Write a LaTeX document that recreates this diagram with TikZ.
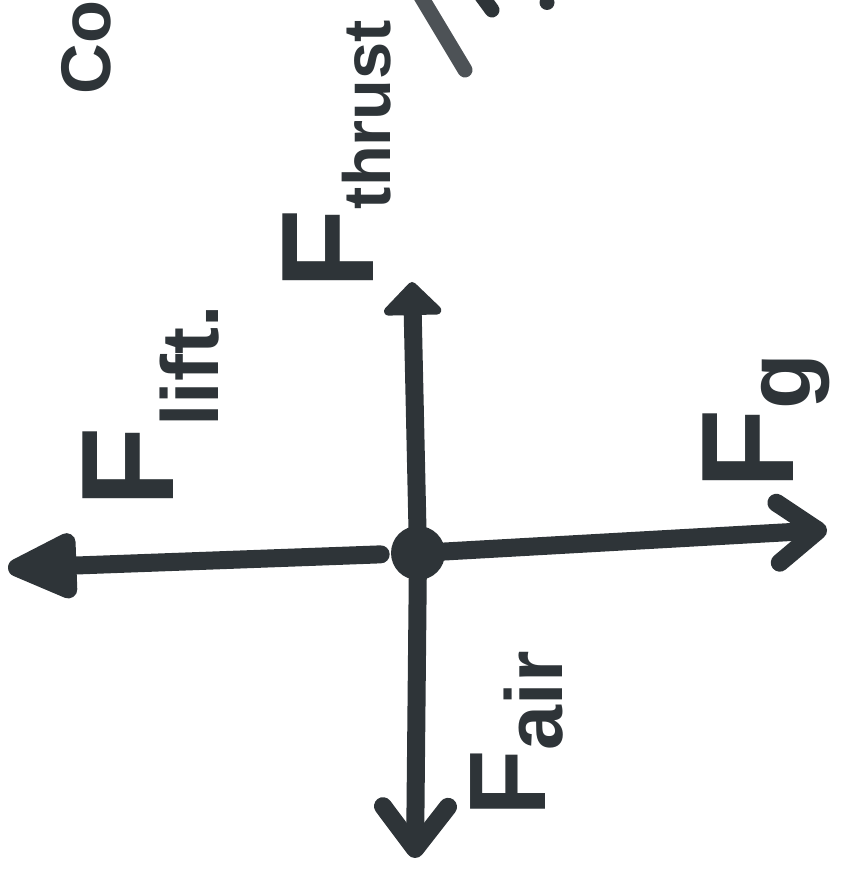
\documentclass[tikz,border=0pt]{standalone}
\usepackage{fontspec}
\setmainfont{Liberation Sans}
\usetikzlibrary{arrows.meta}
\definecolor{ink}{RGB}{46,52,56}
\newcommand{\fsub}[2][0.35cm]{\raisebox{-#1}{\fontsize{46}{46}\selectfont #2}}

\begin{document}
\begin{tikzpicture}[
    force/.style={draw=ink, line width=0.36cm, line cap=round},
    flabel/.style={text=ink, font=\fontsize{75}{75}\selectfont\bfseries,
        rotate=90, inner sep=0pt, anchor=base west}
]
    \clip (0,0) rectangle (17.14,17.5);

    % Body - a dot in the middle
    \node[circle, fill=ink, minimum size=1.08cm, inner sep=0pt] (c) at (8.36,6.44) {};
    \coordinate (lift) at (0.16,6.14);
    \coordinate (g) at (16.54,6.9);
    \coordinate (thrust) at (8.24,11.86);
    \coordinate (air) at (8.3,0.34);

    % Forces
    \draw[force, shorten <=0.2cm, -{Triangle[round,length=1.65cm,width=1.4cm]}] (c) -- (lift);
    \draw[force, -{Straight Barb[round,length=0.8cm,width=1.2cm]}] (c.center) -- (g);
    \draw[force, -{Triangle[round,length=0.7cm,width=1.35cm]}] (c.center) -- (thrust);
    \draw[force, -{Straight Barb[round,length=0.85cm,width=1.3cm]}] (c.center) -- (air);

    % Labels
    \node[flabel] (flift) at (3.46,7.35) {F\fsub[0.9cm]{lift.}};
    \node[flabel] (fthrust) at (7.46,11.7) {F\fsub{\fontsize{38}{38}\selectfont thrust}};
    \node[flabel] (fg) at (15.86,7.7) {F\fsub{\fontsize{52}{52}\selectfont g}};
    \node[flabel, font=\fontsize{62}{62}\selectfont\bfseries] (fair) at (10.9,1.16) {F\fsub{air}};

    % Writing along the top edge
    \node[flabel, font=\fontsize{40}{40}\selectfont\bfseries] (co) at (2.2,15.6) {Co};
    \draw[ink!85, line width=0.3cm, line cap=round] (8.4,17.6) -- (9.3,16.1);
    \draw[ink, line width=0.3cm, line cap=round] (9.62,17.6) -- (9.84,17.3);
    \fill[ink] (10.94,17.45) circle (0.15cm);
\end{tikzpicture}
\end{document}
